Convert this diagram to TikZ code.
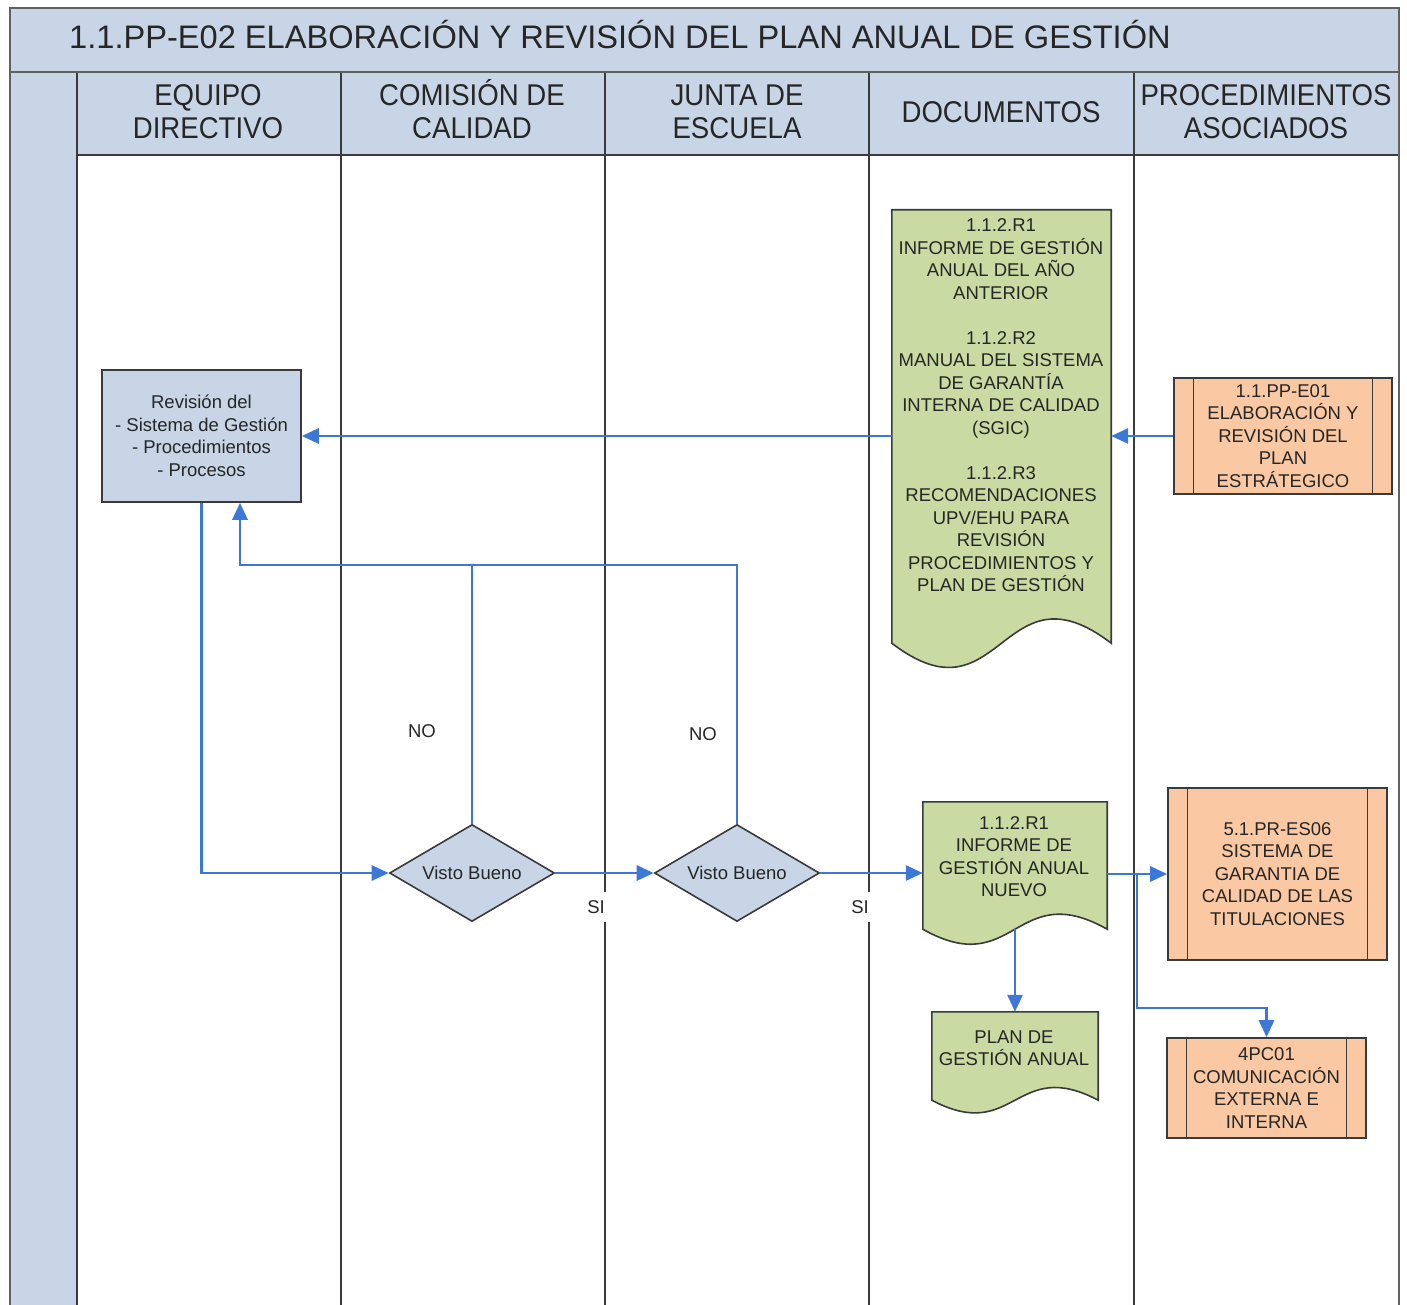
\documentclass[tikz,border=0pt]{standalone}
\usepackage{fontspec}
\setmainfont{Liberation Sans}
\newfontfamily\hdrfont[FakeStretch=0.92]{Liberation Sans}
\usetikzlibrary{arrows.meta,shapes.geometric,calc}
\definecolor{lanefill}{HTML}{C8D5E6}
\definecolor{docfill}{HTML}{C9DBA2}
\definecolor{procfill}{HTML}{FAC9A3}
\definecolor{flowblue}{HTML}{3C78D8}
\definecolor{edge}{HTML}{3A3A3A}
\begin{document}
\begin{tikzpicture}[x=1pt,y=-1pt,
  frame/.style={draw=edge!80, line width=2.6pt},
  lane/.style={draw=edge, line width=2.2pt},
  body/.style={font=\fontsize{18.5}{22.5}\selectfont, text=black!85, align=center, inner sep=0pt},
  hdr/.style={font=\hdrfont\fontsize{30}{33}\selectfont, text=black!85, align=center, inner sep=0pt},
  ttl/.style={font=\fontsize{32.6}{36}\selectfont, text=black!85, inner sep=0pt},
  box/.style={draw=edge, line width=1.6pt, fill=lanefill, inner sep=0pt},
  dec/.style={shape=diamond, draw=edge, line width=1.6pt, fill=lanefill, inner sep=0pt, aspect=1.7},
  docrect/.style={inner sep=0pt},
  docshape/.style={draw=edge, line width=1.6pt, fill=docfill},
  procbox/.style={draw=edge, line width=1.6pt, fill=procfill, inner sep=0pt,
    path picture={
      \draw[edge, line width=1.6pt] ([xshift=19.5pt]path picture bounding box.north west) -- ([xshift=19.5pt]path picture bounding box.south west);
      \draw[edge, line width=1.6pt] ([xshift=-19.5pt]path picture bounding box.north east) -- ([xshift=-19.5pt]path picture bounding box.south east);
    }},
  flow/.style={draw=flowblue, line width=2.8pt, -{Triangle[length=17pt,width=15pt]}},
  flowline/.style={draw=flowblue, line width=2.8pt},
  lbl/.style={font=\fontsize{18.5}{22.5}\selectfont, text=black!85, inner sep=0pt},
  silbl/.style={font=\fontsize{18.5}{22.5}\selectfont, text=black!85, fill=white, inner xsep=6pt, inner ysep=8pt}
]
\useasboundingbox (0,0) rectangle (1407,1305);

% backgrounds
\fill[lanefill] (10,8) rectangle (1399,72);
\fill[lanefill] (10,72) rectangle (77,1305);
\fill[lanefill] (77,72) rectangle (1399,155);
\fill[white] (77,155) rectangle (1399,1305);

% lane lines
\draw[lane] (77,155) -- (1399,155);
\foreach \x in {77,341,605,869,1134} \draw[lane] (\x,72) -- (\x,1305);
\draw[frame] (10,72) -- (1399,72);
\draw[frame] (10,1305) -- (10,8) -- (1399,8) -- (1399,1305);

% title and headers
\node[ttl, anchor=base west] (title) at (69,49) {1.1.PP-E02 ELABORACIÓN Y REVISIÓN DEL PLAN ANUAL DE GESTIÓN};
\node[hdr] (h1) at (208,112) {EQUIPO\\DIRECTIVO};
\node[hdr] (h2) at (472,109.5) {COMISIÓN DE\\CALIDAD};
\node[hdr] (h3) at (737,112) {JUNTA DE\\ESCUELA};
\node[hdr] (h4) at (1001,112) {DOCUMENTOS};
\node[hdr] (h5) at (1266,112) {PROCEDIMIENTOS\\ASOCIADOS};

% Revision box
\node[box, body, minimum width=199pt, minimum height=132pt] (rev) at (201.5,436)
  {Revisión del\\- Sistema de Gestión\\- Procedimientos\\- Procesos};

% Document 1
\node[docrect, minimum width=219pt, minimum height=433pt] (d1) at (1001.5,426.5) {};
\draw[docshape] (d1.north west) -- (d1.north east) -- (d1.south east)
  .. controls ($(d1.south)+(0,-84)$) and ($(d1.south)+(0,84)$) .. (d1.south west) -- cycle;
\node[body] (d1t) at (1001,405.5) {1.1.2.R1\\INFORME DE GESTIÓN\\ANUAL DEL AÑO\\ANTERIOR\\[22.5pt]1.1.2.R2\\MANUAL DEL SISTEMA\\DE GARANTÍA\\INTERNA DE CALIDAD\\(SGIC)\\[22.5pt]1.1.2.R3\\RECOMENDACIONES\\UPV/EHU PARA\\REVISIÓN\\PROCEDIMIENTOS Y\\PLAN DE GESTIÓN};

% Process 1
\node[procbox, body, minimum width=218pt, minimum height=116pt] (p1) at (1283,436)
  {1.1.PP-E01\\ELABORACIÓN Y\\REVISIÓN DEL\\PLAN\\ESTRÁTEGICO};

% Decisions
\node[dec, lbl, minimum width=165pt, minimum height=97pt] (v1) at (472,873) {Visto Bueno};
\node[dec, lbl, minimum width=165pt, minimum height=97pt] (v2) at (737,873) {Visto Bueno};

% Document 2
\node[docrect, minimum width=184pt, minimum height=127pt] (d2) at (1015,865.5) {};
\draw[docshape] (d2.north west) -- (d2.north east) -- (d2.south east)
  .. controls ($(d2.south)+(0,-52)$) and ($(d2.south)+(0,52)$) .. (d2.south west) -- cycle;
\node[body] (d2t) at (1014,856.5) {1.1.2.R1\\INFORME DE\\GESTIÓN ANUAL\\NUEVO};

% Document 3
\node[docrect, minimum width=166pt, minimum height=88pt] (d3) at (1015,1056) {};
\draw[docshape] (d3.north west) -- (d3.north east) -- (d3.south east)
  .. controls ($(d3.south)+(0,-44)$) and ($(d3.south)+(0,44)$) .. (d3.south west) -- cycle;
\node[body] (d3t) at (1014,1048) {PLAN DE\\GESTIÓN ANUAL};

% Process 2 and 3
\node[procbox, body, minimum width=219pt, minimum height=172pt] (p2) at (1277.5,874)
  {5.1.PR-ES06\\SISTEMA DE\\GARANTIA DE\\CALIDAD DE LAS\\TITULACIONES};
\node[procbox, body, minimum width=199pt, minimum height=100pt] (p3) at (1266.5,1088)
  {4PC01\\COMUNICACIÓN\\EXTERNA E\\INTERNA};

% labels
\node[lbl] (no1) at (422,731) {NO};
\node[lbl] (no2) at (703,734) {NO};
\node[silbl] (si1) at (596,907) {SI};
\node[silbl] (si2) at (860,907) {SI};

% connectors
\coordinate (back) at (240,565);
\coordinate (br) at (1137,874);
\coordinate (br2) at (0,1008);
\draw[flow] (d1.west |- rev.east) -- (rev.east);
\draw[flow] (p1.west) -- (p1.west -| d1.east);
\draw[flow] (rev.south) |- (v1.west);
\draw[flow] (v1.north) |- (back) -- (back |- rev.south);
\draw[flowline] (v2.north) |- (v1.north |- back);
\draw[flow] (v1.east) -- (v2.west);
\draw[flow] (v2.east) -- (v2.east -| d2.west);
\draw[flow] (d2.east |- p2.west) -- (p2.west);
\draw[flow] (br) |- (p3.north |- br2) -- (p3.north);
\draw[flow] (d2.south) -- (d3.north);
\end{tikzpicture}
\end{document}
